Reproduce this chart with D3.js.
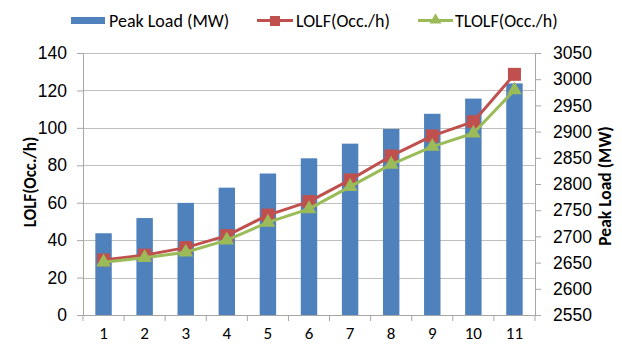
<!DOCTYPE html>
<html>
<head>
<meta charset="utf-8">
<script src="https://cdn.jsdelivr.net/npm/d3@7/dist/d3.min.js"></script>
<style>
  html, body { margin: 0; padding: 0; background: #fff; }
  svg { display: block; font-family: Carlito, Lato, "Open Sans", sans-serif; }
</style>
</head>
<body>
<svg id="chart" width="622" height="345"></svg>
<script>
// Scenario index on the x axis
const categories = [1, 2, 3, 4, 5, 6, 7, 8, 9, 10, 11];
// Peak load per scenario (MW), right axis
const peakLoad = [2706, 2735, 2764, 2793, 2820, 2849, 2877, 2905, 2934, 2963, 2992];
// Loss-of-load frequency (occurrences per hour), left axis
const lolf = [29.4, 32, 36, 42.4, 53.4, 60.6, 72.2, 85, 95.7, 103.3, 128.6];
const tlolf = [28.2, 30.6, 33.5, 40, 49.5, 56.7, 68.6, 80.5, 90, 97.1, 120.2];
// Axis tick values
const leftTicks = [0, 20, 40, 60, 80, 100, 120, 140];
const rightTicks = [2550, 2600, 2650, 2700, 2750, 2800, 2850, 2900, 2950, 3000, 3050];

const colors = { bar: "#4F81BD", lolf: "#C0504D", tlolf: "#9BBB59", grid: "#BFBFBF", axis: "#A6A6A6", text: "#000" };
const tickFont = 17.5;

const svg = d3.select("#chart");
const plot = { left: 83, right: 535, top: 53, bottom: 315 };

const x = d3.scaleBand().domain(categories).range([plot.left, plot.right]).paddingInner(0.6).paddingOuter(0.3);
const yL = d3.scaleLinear().domain([0, 140]).range([plot.bottom, plot.top]);
const yR = d3.scaleLinear().domain([2550, 3050]).range([plot.bottom, plot.top]);

// Horizontal gridlines
svg.append("g").selectAll("line").data(leftTicks.slice(1)).join("line")
  .attr("x1", plot.left).attr("x2", plot.right)
  .attr("y1", d => Math.round(yL(d)) + 0.5).attr("y2", d => Math.round(yL(d)) + 0.5)
  .attr("stroke", colors.grid).attr("stroke-width", 1);

// Left axis
const gL = svg.append("g").attr("transform", `translate(${plot.left},0)`)
  .call(d3.axisLeft(yL).tickValues(leftTicks).tickSize(6).tickPadding(10));
// Right axis
const gR = svg.append("g").attr("transform", `translate(${plot.right},0)`)
  .call(d3.axisRight(yR).tickValues(rightTicks).tickFormat(d3.format("d")).tickSize(6).tickPadding(12));
// Bottom axis with ticks at category boundaries
const step = x.step();
const boundaries = d3.range(categories.length + 1).map(i => plot.left + i * step);
const gB = svg.append("g");
gB.append("line").attr("x1", plot.left).attr("x2", plot.right)
  .attr("y1", plot.bottom + 0.5).attr("y2", plot.bottom + 0.5).attr("stroke", colors.axis);
gB.selectAll(".tk").data(boundaries).join("line").attr("class", "tk")
  .attr("x1", d => d).attr("x2", d => d)
  .attr("y1", plot.bottom).attr("y2", plot.bottom + 6).attr("stroke", colors.axis);
gB.selectAll("text").data(categories).join("text")
  .attr("x", d => x(d) + x.bandwidth() / 2).attr("y", 339)
  .attr("text-anchor", "middle").attr("font-size", 17).attr("fill", colors.text)
  .text(d => d);

[gL, gR].forEach(g => {
  g.select(".domain").attr("stroke", colors.axis);
  g.selectAll(".tick line").attr("stroke", colors.axis);
  g.selectAll(".tick text").attr("font-size", tickFont).attr("fill", colors.text).attr("font-family", null);
});

// Bars (peak load, right axis)
svg.append("g").selectAll("rect").data(categories).join("rect")
  .attr("x", d => x(d)).attr("width", x.bandwidth())
  .attr("y", (d, i) => yR(peakLoad[i]))
  .attr("height", (d, i) => yR(2550) - yR(peakLoad[i]))
  .attr("fill", colors.bar);

const cx = d => x(d) + x.bandwidth() / 2;
const line = vals => d3.line().x(d => cx(d)).y((d, i) => yL(vals[i]))(categories);

// LOLF series
svg.append("path").attr("d", line(lolf)).attr("fill", "none")
  .attr("stroke", colors.lolf).attr("stroke-width", 3).attr("stroke-linejoin", "round");
svg.append("g").selectAll("rect").data(categories).join("rect")
  .attr("x", d => cx(d) - 6.5).attr("y", (d, i) => yL(lolf[i]) - 6.5)
  .attr("width", 13).attr("height", 13).attr("fill", colors.lolf);

// TLOLF series
const tri = d3.symbol().type(d3.symbolTriangle).size(95);
svg.append("path").attr("d", line(tlolf)).attr("fill", "none")
  .attr("stroke", colors.tlolf).attr("stroke-width", 3).attr("stroke-linejoin", "round");
svg.append("g").selectAll("path").data(categories).join("path")
  .attr("transform", (d, i) => `translate(${cx(d)},${yL(tlolf[i])})`)
  .attr("d", tri).attr("fill", colors.tlolf);

// Axis titles
svg.append("text").attr("transform", `translate(36,${(plot.top + plot.bottom) / 2 - 2}) rotate(-90)`)
  .attr("text-anchor", "middle").attr("font-size", 17).attr("font-weight", "bold")
  .attr("fill", colors.text).text("LOLF(Occ./h)");
svg.append("text").attr("transform", `translate(611,${(plot.top + plot.bottom) / 2 + 2}) rotate(-90)`)
  .attr("text-anchor", "middle").attr("font-size", 17.5).attr("font-weight", "bold")
  .attr("fill", colors.text).text("Peak Load (MW)");

// Legend
const lg = svg.append("g").attr("font-size", 18).attr("fill", colors.text);
lg.append("rect").attr("x", 71).attr("y", 17).attr("width", 34).attr("height", 7).attr("fill", colors.bar);
lg.append("text").attr("x", 109).attr("y", 27).text("Peak Load (MW)");
lg.append("line").attr("x1", 257).attr("x2", 293).attr("y1", 20.5).attr("y2", 20.5)
  .attr("stroke", colors.lolf).attr("stroke-width", 3);
lg.append("rect").attr("x", 270).attr("y", 16).attr("width", 10).attr("height", 10).attr("fill", colors.lolf);
lg.append("text").attr("x", 296).attr("y", 27).text("LOLF(Occ./h)");
lg.append("line").attr("x1", 418).attr("x2", 453).attr("y1", 20.5).attr("y2", 20.5)
  .attr("stroke", colors.tlolf).attr("stroke-width", 3);
lg.append("path").attr("transform", "translate(435.5,20)")
  .attr("d", d3.symbol().type(d3.symbolTriangle).size(60)).attr("fill", colors.tlolf);
lg.append("text").attr("x", 455).attr("y", 27).text("TLOLF(Occ./h)");
</script>
</body>
</html>
